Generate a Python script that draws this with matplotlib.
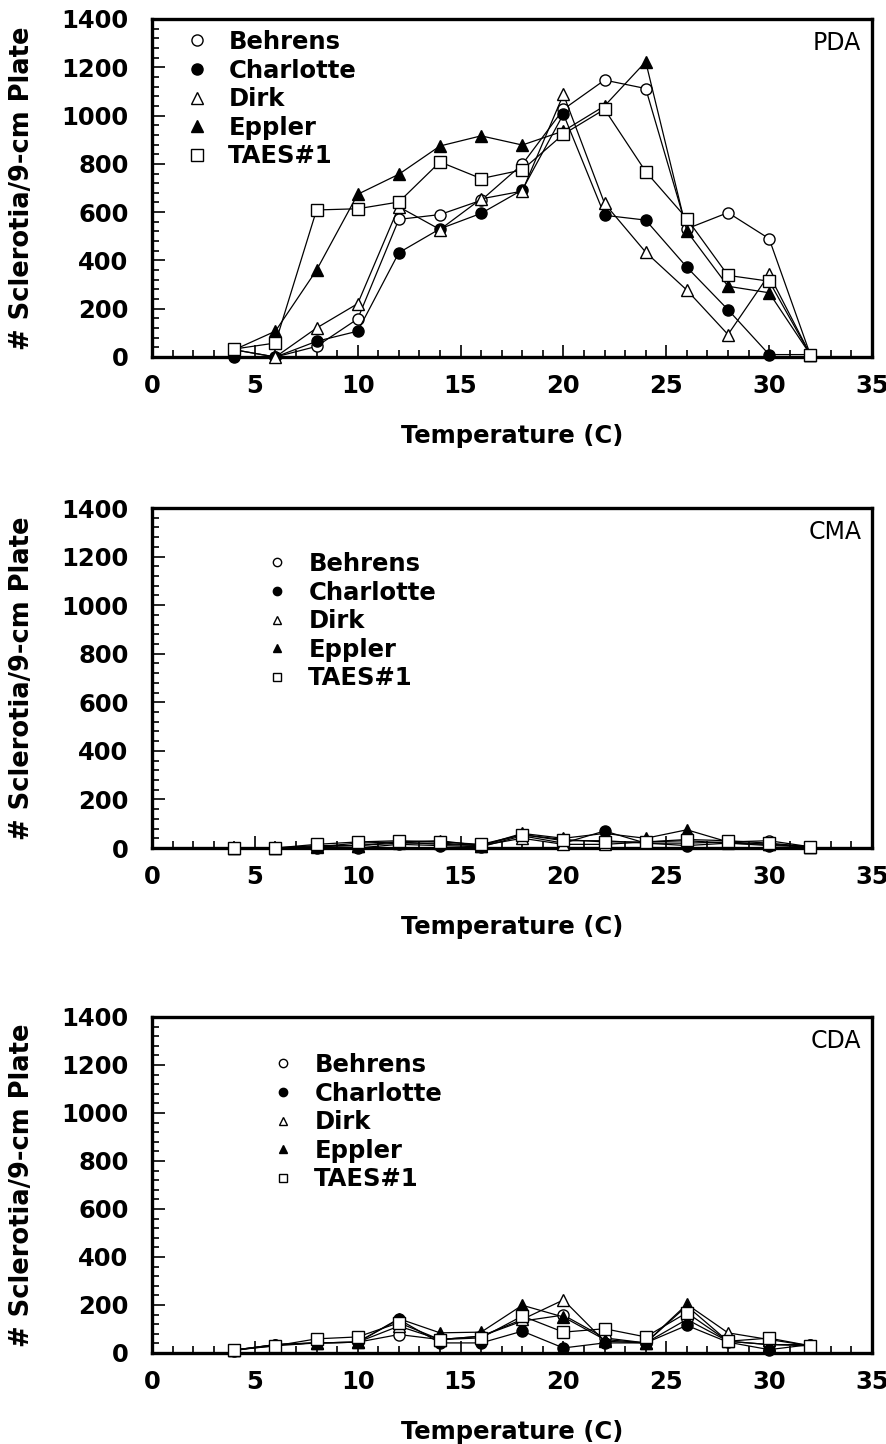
import matplotlib
matplotlib.use("Agg")
import matplotlib.pyplot as plt
from matplotlib.ticker import MultipleLocator

plt.rcParams['font.family'] = ['DejaVu Sans']
plt.rcParams['font.weight'] = 'bold'

temps = [4, 6, 8, 10, 12, 14, 16, 18, 20, 22, 24, 26, 28, 30, 32]
cultivars = ["Behrens", "Charlotte", "Dirk", "Eppler", "TAES#1"]

pda_behrens   = [30, 0, 44, 158, 570, 590, 649, 798, 1026, 1147, 1112, 531, 598, 490, 10]
pda_charlotte = [0, 0, 65, 107, 432, 531, 595, 692, 1006, 587, 567, 372, 196, 10, 10]
pda_dirk      = [30, 0, 120, 221, 622, 528, 655, 687, 1088, 636, 434, 277, 93, 342, 10]
pda_eppler    = [30, 107, 360, 674, 757, 874, 916, 878, 936, 1040, 1223, 521, 293, 266, 10]
pda_taes1     = [33, 58, 609, 614, 642, 808, 739, 775, 923, 1026, 768, 573, 338, 314, 10]

cma_behrens   = [0, 0, 5, 20, 25, 15, 10, 55, 30, 30, 20, 20, 25, 30, 5]
cma_charlotte = [0, 0, 0, 0, 15, 10, 5, 50, 20, 70, 20, 10, 20, 10, 5]
cma_dirk      = [0, 0, 10, 10, 20, 20, 10, 40, 15, 15, 25, 30, 20, 15, 5]
cma_eppler    = [0, 0, 5, 10, 25, 30, 10, 60, 40, 60, 40, 75, 25, 15, 5]
cma_taes1     = [0, 0, 15, 25, 30, 25, 15, 55, 35, 25, 25, 35, 30, 20, 5]

cda_behrens   = [12, 35, 42, 45, 77, 56, 70, 133, 158, 63, 42, 140, 49, 35, 35]
cda_charlotte = [10, 35, 42, 45, 140, 42, 42, 91, 21, 42, 42, 115, 45, 14, 35]
cda_dirk      = [12, 30, 42, 45, 112, 56, 70, 140, 221, 49, 42, 203, 84, 56, 30]
cda_eppler    = [12, 35, 42, 45, 143, 84, 87, 199, 150, 56, 42, 196, 49, 35, 30]
cda_taes1     = [14, 30, 59, 67, 126, 56, 63, 154, 87, 101, 67, 168, 49, 62, 30]

panels = [
    ("PDA", [pda_behrens, pda_charlotte, pda_dirk, pda_eppler, pda_taes1]),
    ("CMA", [cma_behrens, cma_charlotte, cma_dirk, cma_eppler, cma_taes1]),
    ("CDA", [cda_behrens, cda_charlotte, cda_dirk, cda_eppler, cda_taes1]),
]

styles = [
    dict(marker='o', mfc='white', mec='black'),
    dict(marker='o', mfc='black', mec='black'),
    dict(marker='^', mfc='white', mec='black'),
    dict(marker='^', mfc='black', mec='black'),
    dict(marker='s', mfc='white', mec='black'),
]

W, H = 887, 1444
fig = plt.figure(figsize=(W / 100, H / 100), dpi=100)

# axes pixel boxes: (top, bottom)
boxes = [(19, 357), (508, 848), (1017, 1353)]
left_px, right_px = 152, 872
legend_pos = [(187, 30), (267, 552), (273, 1053)]
legend_msize = [8, 6, 6]
FS = 17.5

for (name, series), (top, bot), (lx, ly), lms in zip(panels, boxes, legend_pos, legend_msize):
    ax = fig.add_axes([left_px / W, 1 - bot / H, (right_px - left_px) / W, (bot - top) / H])
    handles = []
    for vals, st, lab in zip(series, styles, cultivars):
        ax.plot(temps, vals, color='black', lw=0.9, ms=8, mew=1.0,
                clip_on=False, zorder=3, **st)
        h, = ax.plot([], [], ls='none', ms=lms, mew=1.0, label=lab, **st)
        handles.append(h)
    ax.set_xlim(0, 35)
    ax.set_ylim(0, 1400)
    ax.xaxis.set_major_locator(MultipleLocator(5))
    ax.xaxis.set_minor_locator(MultipleLocator(1))
    ax.yaxis.set_major_locator(MultipleLocator(200))
    ax.yaxis.set_minor_locator(MultipleLocator(40))
    ax.tick_params(which='both', direction='in', top=False, right=False,
                   labelsize=FS, width=1.2)
    ax.tick_params(which='major', length=9)
    ax.tick_params(axis='y', which='major', pad=17)
    ax.tick_params(axis='x', which='major', pad=12)
    ax.tick_params(which='minor', length=5)
    for lbl in ax.get_xticklabels() + ax.get_yticklabels():
        lbl.set_fontweight('bold')
    for sp in ax.spines.values():
        sp.set_linewidth(2.4)
    ax.set_xlabel("Temperature (C)", fontsize=FS, fontweight='bold', labelpad=19)
    ax.set_ylabel("# Sclerotia/9-cm Plate", fontsize=18.5, fontweight='bold', labelpad=19)
    ax.text(0.985, 0.93, name, transform=ax.transAxes, ha='right', va='center',
            fontsize=17, fontweight='normal')
    leg = ax.legend(handles=handles, loc='upper left', frameon=False,
                    bbox_to_anchor=((lx - left_px) / (right_px - left_px),
                                    1 - (ly - top) / (bot - top)),
                    fontsize=FS, handlelength=0.8, handletextpad=0.9,
                    labelspacing=0.19, borderaxespad=0, borderpad=0)
    for t in leg.get_texts():
        t.set_fontweight('bold')

fig.savefig("out.png", dpi=100)
